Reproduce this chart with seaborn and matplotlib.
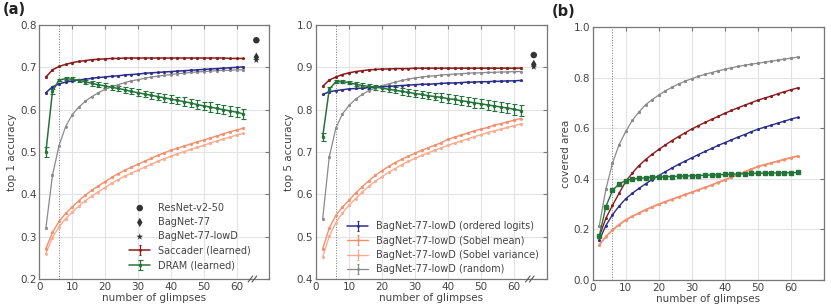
import matplotlib
matplotlib.use('Agg')
import matplotlib.pyplot as plt
import seaborn as sns

# number of glimpses
glimpses = [2, 4, 6, 8, 10, 12, 14, 16, 18, 20, 22, 24, 26, 28, 30, 32,
            34, 36, 38, 40, 42, 44, 46, 48, 50, 52, 54, 56, 58, 60, 62]

# ---- top 1 accuracy ----
sac_top1 = [0.677, 0.694, 0.702, 0.707, 0.711, 0.714, 0.716, 0.718, 0.719, 0.720,
            0.721, 0.721, 0.722, 0.722, 0.722, 0.722, 0.722, 0.722, 0.722, 0.722,
            0.722, 0.722, 0.722, 0.722, 0.722, 0.722, 0.722, 0.722, 0.721, 0.721, 0.721]
dram_top1 = [0.500, 0.643, 0.670, 0.673, 0.672, 0.669, 0.666, 0.662, 0.659, 0.656,
             0.653, 0.650, 0.647, 0.643, 0.640, 0.637, 0.634, 0.631, 0.628, 0.625,
             0.622, 0.619, 0.616, 0.612, 0.609, 0.606, 0.603, 0.600, 0.597, 0.594, 0.590]
logits_top1 = [0.640, 0.654, 0.661, 0.665, 0.668, 0.670, 0.672, 0.674, 0.676, 0.677,
               0.679, 0.680, 0.682, 0.683, 0.684, 0.686, 0.687, 0.688, 0.689, 0.690,
               0.691, 0.692, 0.693, 0.694, 0.695, 0.696, 0.697, 0.698, 0.699, 0.700, 0.701]
smean_top1 = [0.272, 0.310, 0.336, 0.355, 0.370, 0.385, 0.398, 0.410, 0.420, 0.430,
              0.440, 0.449, 0.457, 0.464, 0.471, 0.478, 0.485, 0.492, 0.498, 0.504,
              0.509, 0.514, 0.519, 0.524, 0.528, 0.533, 0.538, 0.543, 0.548, 0.552, 0.556]
svar_top1 = [0.260, 0.298, 0.323, 0.342, 0.358, 0.372, 0.385, 0.396, 0.406, 0.416,
             0.426, 0.435, 0.443, 0.450, 0.457, 0.464, 0.471, 0.478, 0.484, 0.490,
             0.496, 0.501, 0.506, 0.511, 0.516, 0.521, 0.526, 0.531, 0.535, 0.540, 0.544]
rand_top1 = [0.320, 0.445, 0.515, 0.560, 0.588, 0.606, 0.620, 0.631, 0.640, 0.648,
             0.654, 0.659, 0.664, 0.668, 0.671, 0.674, 0.677, 0.679, 0.681, 0.683,
             0.685, 0.686, 0.688, 0.689, 0.690, 0.691, 0.692, 0.693, 0.693, 0.694, 0.694]
dram_err1 = [0.012, 0.006, 0.003, 0.003, 0.004, 0.004, 0.005, 0.005, 0.006, 0.006,
             0.006, 0.007, 0.007, 0.007, 0.008, 0.008, 0.008, 0.008, 0.009, 0.009,
             0.009, 0.010, 0.010, 0.010, 0.010, 0.011, 0.011, 0.011, 0.011, 0.012, 0.012]

# ---- top 5 accuracy ----
sac_top5 = [0.855, 0.870, 0.877, 0.883, 0.887, 0.890, 0.892, 0.894, 0.895, 0.896,
            0.896, 0.897, 0.897, 0.897, 0.898, 0.898, 0.898, 0.898, 0.898, 0.898,
            0.898, 0.898, 0.898, 0.898, 0.898, 0.898, 0.898, 0.898, 0.898, 0.898, 0.898]
dram_top5 = [0.735, 0.848, 0.866, 0.866, 0.864, 0.860, 0.857, 0.855, 0.853, 0.851,
             0.848, 0.846, 0.843, 0.841, 0.838, 0.836, 0.833, 0.831, 0.829, 0.826,
             0.824, 0.821, 0.819, 0.816, 0.814, 0.811, 0.809, 0.806, 0.804, 0.801, 0.798]
logits_top5 = [0.836, 0.842, 0.845, 0.847, 0.849, 0.850, 0.851, 0.852, 0.853, 0.854,
               0.855, 0.856, 0.857, 0.858, 0.859, 0.860, 0.860, 0.861, 0.862, 0.863,
               0.863, 0.864, 0.865, 0.865, 0.866, 0.866, 0.867, 0.867, 0.868, 0.868, 0.869]
smean_top5 = [0.471, 0.520, 0.550, 0.570, 0.586, 0.603, 0.618, 0.632, 0.645, 0.656,
              0.666, 0.675, 0.683, 0.690, 0.697, 0.704, 0.710, 0.716, 0.722, 0.730,
              0.735, 0.740, 0.745, 0.750, 0.754, 0.758, 0.763, 0.767, 0.771, 0.775, 0.779]
svar_top5 = [0.451, 0.501, 0.533, 0.556, 0.574, 0.590, 0.605, 0.619, 0.631, 0.642,
             0.652, 0.661, 0.670, 0.678, 0.685, 0.692, 0.698, 0.704, 0.710, 0.716,
             0.721, 0.726, 0.731, 0.736, 0.741, 0.746, 0.750, 0.754, 0.758, 0.762, 0.766]
rand_top5 = [0.541, 0.688, 0.756, 0.790, 0.810, 0.825, 0.836, 0.845, 0.851, 0.856,
             0.861, 0.865, 0.869, 0.872, 0.875, 0.877, 0.879, 0.880, 0.882, 0.883,
             0.884, 0.885, 0.886, 0.887, 0.887, 0.888, 0.888, 0.889, 0.889, 0.890, 0.890]
dram_err5 = [0.010, 0.005, 0.003, 0.003, 0.004, 0.005, 0.005, 0.006, 0.006, 0.007,
             0.007, 0.007, 0.008, 0.008, 0.008, 0.009, 0.009, 0.009, 0.010, 0.010,
             0.010, 0.011, 0.011, 0.011, 0.011, 0.012, 0.012, 0.012, 0.012, 0.013, 0.013]

# ---- covered area ----
sac_area = [0.172, 0.244, 0.295, 0.343, 0.389, 0.423, 0.452, 0.476, 0.497, 0.516,
            0.534, 0.551, 0.567, 0.582, 0.597, 0.610, 0.623, 0.635, 0.647, 0.659,
            0.670, 0.681, 0.691, 0.701, 0.711, 0.719, 0.727, 0.736, 0.744, 0.752, 0.759]
dram_area = [0.174, 0.290, 0.354, 0.380, 0.393, 0.399, 0.402, 0.404, 0.406, 0.407,
             0.408, 0.409, 0.410, 0.411, 0.412, 0.413, 0.414, 0.415, 0.416, 0.417,
             0.418, 0.419, 0.420, 0.421, 0.422, 0.422, 0.423, 0.423, 0.424, 0.424, 0.425]
logits_area = [0.158, 0.215, 0.258, 0.292, 0.321, 0.343, 0.362, 0.380, 0.397, 0.413,
               0.428, 0.443, 0.457, 0.470, 0.483, 0.496, 0.508, 0.520, 0.532, 0.543,
               0.554, 0.565, 0.575, 0.586, 0.596, 0.604, 0.612, 0.620, 0.628, 0.636, 0.643]
smean_area = [0.139, 0.172, 0.198, 0.219, 0.238, 0.252, 0.265, 0.278, 0.289, 0.300,
              0.310, 0.319, 0.329, 0.338, 0.347, 0.357, 0.366, 0.376, 0.386, 0.396,
              0.406, 0.417, 0.428, 0.438, 0.449, 0.456, 0.463, 0.470, 0.477, 0.484, 0.490]
svar_area = [0.138, 0.171, 0.197, 0.218, 0.237, 0.251, 0.264, 0.277, 0.288, 0.299,
             0.309, 0.318, 0.328, 0.337, 0.346, 0.356, 0.365, 0.375, 0.385, 0.395,
             0.405, 0.416, 0.427, 0.437, 0.448, 0.455, 0.462, 0.469, 0.476, 0.483, 0.489]
rand_area = [0.214, 0.359, 0.462, 0.535, 0.587, 0.631, 0.664, 0.693, 0.713, 0.731,
             0.748, 0.762, 0.775, 0.786, 0.796, 0.805, 0.813, 0.820, 0.827, 0.833,
             0.839, 0.844, 0.849, 0.853, 0.857, 0.861, 0.865, 0.869, 0.873, 0.877, 0.881]

# reference models (shown right of the axis break)
ref_models = ['ResNet-v2-50', 'BagNet-77', 'BagNet-77-lowD']
ref_markers = ['o', 'd', '*']
ref_top1 = [0.764, 0.724, 0.717]
ref_top5 = [0.929, 0.907, 0.901]
REF_X = 66

sac_label = 'Saccader (learned)'
dram_label = 'DRAM (learned)'
lowd_labels = ['BagNet-77-lowD (ordered logits)', 'BagNet-77-lowD (Sobel mean)',
               'BagNet-77-lowD (Sobel variance)', 'BagNet-77-lowD (random)']

C_SAC = '#8b1a1a'
C_DRAM = '#24743a'
C_LOG = '#2b2f8c'
C_SMEAN = '#f58e6c'
C_SVAR = '#fbab8f'
C_RAND = '#8a8a8a'
TXT = '#444444'

sns.set_style('whitegrid', {'grid.color': '#e3e3e3', 'axes.edgecolor': '#777777'})
plt.rcParams['font.family'] = ['DejaVu Sans']
plt.rcParams['font.size'] = 7

fig = plt.figure(figsize=(8.31, 3.07), dpi=100)
ax1 = fig.add_axes([0.0473, 0.0912, 0.2770, 0.8274])
ax2 = fig.add_axes([0.3803, 0.0912, 0.2779, 0.8274])
ax3 = fig.add_axes([0.7132, 0.0880, 0.2784, 0.8240])


def draw(ax, series):
    handles = []
    for y, c, lw, mk, ms, e, cap in series:
        h = ax.errorbar(glimpses, y, yerr=e, color=c, lw=lw, marker=mk, ms=ms,
                        capsize=cap, elinewidth=0.9, capthick=0.8, zorder=3)
        handles.append(h)
    return handles


h1 = draw(ax1, [
    (rand_top1, C_RAND, 0.9, 'o', 1.0, 0.002, 1.0),
    (svar_top1, C_SVAR, 1.0, 'o', 1.0, 0.002, 1.0),
    (smean_top1, C_SMEAN, 1.0, 'o', 1.0, 0.002, 1.0),
    (logits_top1, C_LOG, 1.1, 'o', 1.0, 0.002, 1.0),
    (dram_top1, C_DRAM, 1.1, 'o', 1.5, dram_err1, 1.8),
    (sac_top1, C_SAC, 1.1, 'o', 1.0, 0.002, 1.0),
])
h2 = draw(ax2, [
    (rand_top5, C_RAND, 0.9, 'o', 1.0, 0.002, 1.0),
    (svar_top5, C_SVAR, 1.0, 'o', 1.0, 0.002, 1.0),
    (smean_top5, C_SMEAN, 1.0, 'o', 1.0, 0.002, 1.0),
    (logits_top5, C_LOG, 1.1, 'o', 1.0, 0.002, 1.0),
    (dram_top5, C_DRAM, 1.1, 'o', 1.5, dram_err5, 1.8),
    (sac_top5, C_SAC, 1.1, 'o', 1.0, 0.002, 1.0),
])
draw(ax3, [
    (rand_area, C_RAND, 0.9, 'o', 1.2, 0.003, 1.0),
    (svar_area, C_SVAR, 1.1, 'o', 1.0, 0.002, 0.8),
    (smean_area, C_SMEAN, 1.1, 'o', 1.0, 0.002, 0.8),
    (logits_area, C_LOG, 1.0, 'o', 1.0, 0.002, 1.0),
    (sac_area, C_SAC, 1.0, 'o', 1.0, 0.002, 1.0),
    (dram_area, C_DRAM, 1.0, 's', 2.6, 0.003, 1.2),
])

# reference model markers
ref_handles = []
for ax, vals in [(ax1, ref_top1), (ax2, ref_top5)]:
    hs = []
    for name, mk, v in zip(ref_models, ref_markers, vals):
        sz = 22 if mk != '*' else 26
        sns.scatterplot(x=[REF_X], y=[v], marker=mk, s=sz, color='#333333',
                        edgecolor='none', ax=ax, label=name, legend=False, zorder=4)
        hs.append(ax.collections[-1])
    ref_handles.append(hs)

for ax, lab, ylim in [(ax1, 'top 1 accuracy', (0.2, 0.8)),
                      (ax2, 'top 5 accuracy', (0.4, 1.0)),
                      (ax3, 'covered area', (0.0, 1.0))]:
    ax.set_xlim(0, 70)
    ax.set_ylim(*ylim)
    ax.set_xticks([0, 10, 20, 30, 40, 50, 60, 70])
    ax.set_xticklabels(['0', '10', '20', '30', '40', '50', '60', ''])
    ax.set_xlabel('number of glimpses', color=TXT, fontsize=7.5, labelpad=1)
    ax.set_ylabel(lab, color=TXT, fontsize=7.5, labelpad=2)
    ax.axvline(6, color='#777777', lw=0.7, ls=':', zorder=2)
    ax.tick_params(direction='in', top=True, right=True, length=3, width=0.8,
                   color='#777777', labelcolor=TXT, labelsize=7.5, pad=2)
    ax.grid(True, lw=0.8)
    for sp in ax.spines.values():
        sp.set_linewidth(0.9)
        sp.set_visible(True)

for ax in (ax1, ax2):
    # axis break marks on the bottom spine
    tr = ax.get_xaxis_transform()
    for xb in (64.2, 65.4):
        ax.plot([xb - 0.7, xb + 0.7], [-0.012, 0.012], transform=tr, color='#555555',
                lw=0.8, clip_on=False, zorder=5)

ax1.set_yticks([0.2, 0.3, 0.4, 0.5, 0.6, 0.7, 0.8])
ax2.set_yticks([0.4, 0.5, 0.6, 0.7, 0.8, 0.9, 1.0])
ax3.set_yticks([0.0, 0.2, 0.4, 0.6, 0.8, 1.0])

leg_kw = dict(frameon=False, fontsize=7, handlelength=2.2, handletextpad=0.8,
              labelspacing=0.45, borderaxespad=0, borderpad=0, labelcolor=TXT)
ax1.legend(ref_handles[0] + [h1[5], h1[4]],
           ref_models + [sac_label, dram_label],
           loc='lower left', bbox_to_anchor=(0.39, 0.035), **leg_kw)
ax2.legend([h2[3], h2[2], h2[1], h2[0]], lowd_labels,
           loc='lower left', bbox_to_anchor=(0.134, 0.018), **leg_kw)

fig.text(0.003, 0.955, '(a)', fontsize=10.5, fontweight='bold', color='#222222')
fig.text(0.664, 0.948, '(b)', fontsize=10.5, fontweight='bold', color='#222222')

fig.savefig('out.png', dpi=100)
